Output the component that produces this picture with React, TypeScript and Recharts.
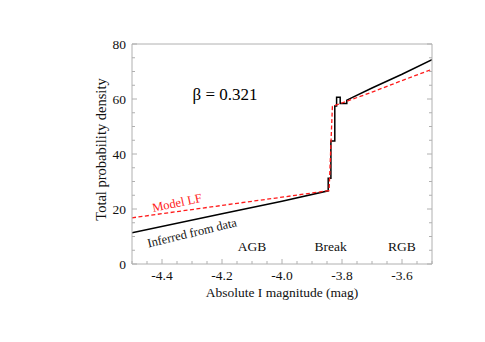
import React from 'react';
import { LineChart, Line, XAxis, YAxis, ReferenceDot, Label } from 'recharts';

// inferred LF from data (black step curve)
const inferredMag = [-4.5, -4.2, -4.0, -3.846, -3.846, -3.837, -3.837, -3.824, -3.824, -3.818, -3.818, -3.806, -3.806, -3.784, -3.784, -3.7, -3.6, -3.5];
const inferredDensity = [11.4, 18.3, 22.8, 26.6, 31.2, 31.2, 44.7, 44.7, 57.5, 57.5, 60.6, 60.6, 58.4, 58.4, 59.6, 64.0, 69.0, 74.3];

// model LF (red dashed)
const modelMag = [-4.5, -4.2, -4.0, -3.843, -3.832, -3.7, -3.6, -3.5];
const modelDensity = [16.8, 21.3, 24.3, 26.7, 57.3, 62.5, 66.7, 70.8];

const magTicks = [-4.5, -4.45, -4.4, -4.35, -4.3, -4.25, -4.2, -4.15, -4.1, -4.05, -4.0, -3.95, -3.9, -3.85, -3.8, -3.75, -3.7, -3.65, -3.6, -3.55, -3.5];
const magLabels = [-4.4, -4.2, -4.0, -3.8, -3.6];
const densityTicks = [0, 5, 10, 15, 20, 25, 30, 35, 40, 45, 50, 55, 60, 65, 70, 75, 80];
const densityLabels = [0, 20, 40, 60, 80];

const inferred = inferredMag.map((m, i) => ({ mag: m, density: inferredDensity[i] }));
const model = modelMag.map((m, i) => ({ mag: m, density: modelDensity[i] }));

const FONT = '"Liberation Serif", serif';
const AXIS = '#b0b0b0';
const GAP = 6;
const txt = { fontFamily: FONT };

const isMajor = (v: number, list: number[]) => list.some((l) => Math.abs(l - v) < 1e-6);

const BottomTick = (props: any) => {
  const { x, y, payload } = props;
  const v = payload.value;
  const major = isMajor(v, magLabels);
  const ay = y - GAP;
  return (
    <g>
      <line x1={x} x2={x} y1={ay} y2={ay - (major ? 5 : 3)} stroke={AXIS} />
      {major && (
        <text x={x} y={y} dy="0.71em" textAnchor="middle" style={txt} fontSize={13.5} fill="#111">
          {v.toFixed(1)}
        </text>
      )}
    </g>
  );
};

const TopTick = (props: any) => {
  const { x, y, payload } = props;
  const major = isMajor(payload.value, magLabels);
  const ay = y + GAP;
  return <line x1={x} x2={x} y1={ay} y2={ay + (major ? 5 : 3)} stroke={AXIS} />;
};

const LeftTick = (props: any) => {
  const { x, y, payload } = props;
  const v = payload.value;
  const major = isMajor(v, densityLabels);
  const ax = x + GAP;
  return (
    <g>
      <line x1={ax} x2={ax + (major ? 5 : 3)} y1={y} y2={y} stroke={AXIS} />
      {major && (
        <text x={x} y={y} dy="0.35em" textAnchor="end" style={txt} fontSize={13.5} fill="#111">
          {v}
        </text>
      )}
    </g>
  );
};

const RightTick = (props: any) => {
  const { x, y, payload } = props;
  const major = isMajor(payload.value, densityLabels);
  const ax = x - GAP;
  return <line x1={ax} x2={ax - (major ? 5 : 3)} y1={y} y2={y} stroke={AXIS} />;
};

const note = (text: string, size: number, color: string, angle = 0) => (props: any) => {
  const { x, y } = props.viewBox;
  return (
    <text
      x={x}
      y={y}
      textAnchor="middle"
      dominantBaseline="central"
      style={txt}
      fontSize={size}
      fill={color}
      transform={angle ? `rotate(${angle}, ${x}, ${y})` : undefined}
    >
      {text}
    </text>
  );
};

export default function App() {
  return (
    <div style={{ position: 'absolute', left: 0, top: 0 }}>
      <LineChart width={485} height={342} margin={{ top: 39, right: 48, bottom: 38, left: 92 }}>
        <XAxis
          xAxisId="b"
          type="number"
          dataKey="mag"
          domain={[-4.5, -3.5]}
          allowDataOverflow
          ticks={magTicks}
          interval={0}
          height={40}
          tickSize={0}
          tickMargin={GAP}
          tickLine={false}
          axisLine={{ stroke: AXIS }}
          tick={<BottomTick />}
        >
          <Label
            content={(p: any) => (
              <text x={p.viewBox.x + p.viewBox.width / 2} y={p.viewBox.y + 33} textAnchor="middle" style={txt} fontSize={13.5} fill="#111">
                Absolute I magnitude (mag)
              </text>
            )}
          />
        </XAxis>
        <XAxis
          xAxisId="t"
          orientation="top"
          type="number"
          domain={[-4.5, -3.5]}
          allowDataOverflow
          ticks={magTicks}
          interval={0}
          height={5}
          tickSize={0}
          tickMargin={GAP}
          tickLine={false}
          axisLine={{ stroke: AXIS }}
          tick={<TopTick />}
        />
        <YAxis
          yAxisId="l"
          type="number"
          domain={[0, 80]}
          allowDataOverflow
          ticks={densityTicks}
          interval={0}
          width={40}
          tickSize={0}
          tickMargin={GAP}
          tickLine={false}
          axisLine={{ stroke: AXIS }}
          tick={<LeftTick />}
        >
          <Label
            content={(p: any) => {
              const cx = p.viewBox.x + 9;
              const cy = p.viewBox.y + 105.5;
              return (
                <text x={cx} y={cy} textAnchor="middle" dominantBaseline="central" style={txt} fontSize={14.5} fill="#111" transform={`rotate(-90, ${cx}, ${cy})`}>
                  Total probability density
                </text>
              );
            }}
          />
        </YAxis>
        <YAxis
          yAxisId="r"
          orientation="right"
          type="number"
          domain={[0, 80]}
          allowDataOverflow
          ticks={densityTicks}
          interval={0}
          width={5}
          tickSize={0}
          tickMargin={GAP}
          tickLine={false}
          axisLine={{ stroke: AXIS }}
          tick={<RightTick />}
        />
        <Line
          xAxisId="b"
          yAxisId="l"
          data={inferred}
          dataKey="density"
          type="linear"
          stroke="#000"
          strokeWidth={1.5}
          dot={false}
          isAnimationActive={false}
        />
        <Line
          xAxisId="b"
          yAxisId="l"
          data={model}
          dataKey="density"
          type="linear"
          stroke="#ff1a1a"
          strokeWidth={1.3}
          strokeDasharray="4 2.5"
          dot={false}
          isAnimationActive={false}
        />
        <ReferenceDot xAxisId="b" yAxisId="l" x={-4.19} y={61.5} r={0} label={{ content: note('β = 0.321', 17, '#000') }} />
        <ReferenceDot xAxisId="b" yAxisId="l" x={-4.35} y={22.2} r={0} label={{ content: note('Model LF', 12.5, '#ff1a1a', -12) }} />
        <ReferenceDot xAxisId="b" yAxisId="l" x={-4.3} y={11.3} r={0} label={{ content: note('Inferred from data', 12.5, '#111', -13.5) }} />
        <ReferenceDot xAxisId="b" yAxisId="l" x={-4.1} y={6.3} r={0} label={{ content: note('AGB', 13.5, '#111') }} />
        <ReferenceDot xAxisId="b" yAxisId="l" x={-3.838} y={6.3} r={0} label={{ content: note('Break', 13.5, '#111') }} />
        <ReferenceDot xAxisId="b" yAxisId="l" x={-3.6} y={6.3} r={0} label={{ content: note('RGB', 13.5, '#111') }} />
      </LineChart>
    </div>
  );
}
